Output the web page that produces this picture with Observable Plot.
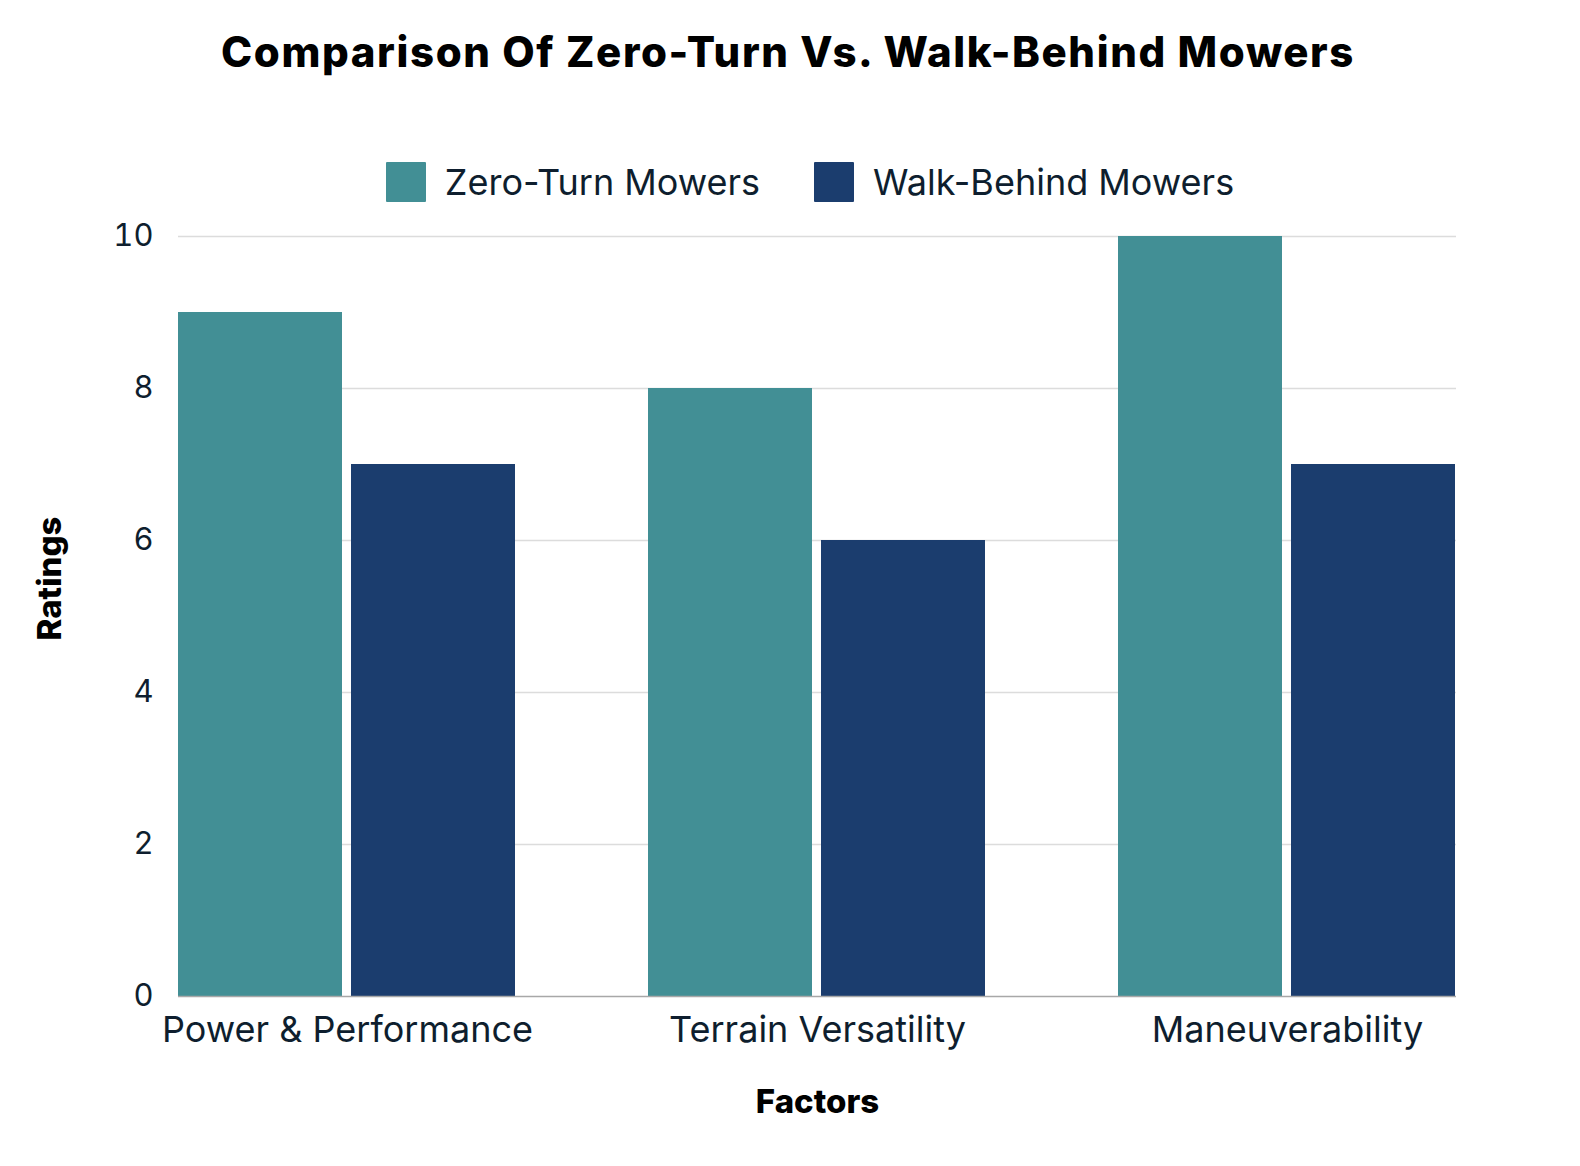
<!DOCTYPE html>
<html>
<head>
<meta charset="utf-8">
<script src="https://cdn.jsdelivr.net/npm/d3@7"></script>
<script src="https://cdn.jsdelivr.net/npm/@observablehq/plot@0.6"></script>
<style>
  html, body { margin: 0; padding: 0; background: #fff; overflow: hidden; }
  body { width: 1580px; height: 1166px; font-family: Inter, "Open Sans", sans-serif; color: #0e1e2e; }
  #title { height: 152px; line-height: 104px; text-align: center; font-size: 42px; font-weight: 800; color: #000; padding-right: 4px; box-sizing: border-box; letter-spacing: 1.6px; }
  #legend { height: 60px; display: flex; align-items: center; justify-content: center; gap: 54px; padding-left: 40px; font-size: 36px; color: #0e1e2e; }
  .sw { display: flex; align-items: center; }
  .sq { width: 40px; height: 40px; margin-right: 19px; border-radius: 1px; }
  #chart svg { display: block; }
  svg g[aria-label="fx-axis label"] text { font-weight: 800; }
</style>
</head>
<body>
<div id="title">Comparison Of Zero-Turn Vs. Walk-Behind Mowers</div>
<div id="legend"></div>
<div id="chart"></div>
<script>
const factors = ["Power & Performance", "Terrain Versatility", "Maneuverability"];
const seriesNames = ["Zero-Turn Mowers", "Walk-Behind Mowers"];
const zeroTurn = [9, 8, 10];
const walkBehind = [7, 6, 7];
const yTicks = [0, 2, 4, 6, 8, 10];
const colors = ["#428f95", "#1b3d6e"];

const data = [];
factors.forEach((f, i) => {
  data.push({factor: f, series: seriesNames[0], value: zeroTurn[i]});
  data.push({factor: f, series: seriesNames[1], value: walkBehind[i]});
});

const legend = document.getElementById("legend");
seriesNames.forEach((s, i) => {
  const d = document.createElement("div");
  d.className = "sw";
  d.innerHTML = `<div class="sq" style="background:${colors[i]}"></div><span>${s}</span>`;
  legend.appendChild(d);
});

const W = 1580, ML = 178, MR = 124;
const plotWidth = W - ML - MR;

const chart = Plot.plot({
  width: W,
  height: 938,
  marginLeft: ML,
  marginRight: MR,
  marginTop: 24,
  marginBottom: 154,
  style: {fontFamily: "Inter, 'Open Sans', sans-serif", fontSize: "31px", color: "#0e1e2e", background: "#fff"},
  fx: {domain: factors, paddingInner: 0.281, paddingOuter: 0, label: null},
  x: {domain: seriesNames, paddingInner: 0.052, paddingOuter: 0, axis: null},
  y: {domain: [0, 10], label: null},
  color: {domain: seriesNames, range: colors},
  marks: [
    Plot.axisY({ticks: yTicks.filter(d => d > 0), tickSize: -plotWidth, tickPadding: 0, text: null, label: null, stroke: "#dcdcdc", strokeWidth: 1.5, strokeOpacity: 1}),
    Plot.barY(data, {fx: "factor", x: "series", y: "value", fill: "series"}),
    Plot.axisY({ticks: [0], tickSize: -plotWidth, text: null, label: null, stroke: "#a8a8a8", strokeWidth: 1.5, strokeOpacity: 1}),
    Plot.axisY({ticks: yTicks, tickSize: 0, tickPadding: 25, fontSize: 31, label: null}),
    Plot.text(["Ratings"], {facet: "super", frameAnchor: "left", rotate: -90, dx: -128, dy: 24, fontSize: 33, fontWeight: 800, fill: "#000"}),
    Plot.axisFx({anchor: "bottom", tickSize: 0, tickPadding: 20, fontSize: 36, label: "Factors", labelAnchor: "center", labelOffset: 116, labelArrow: "none"})
  ]
});
document.getElementById("chart").appendChild(chart);
chart.querySelectorAll('g[aria-label="fx-axis label"] text').forEach(t => { t.setAttribute("font-size", 33); t.style.fill = "#000"; });
</script>
</body>
</html>
